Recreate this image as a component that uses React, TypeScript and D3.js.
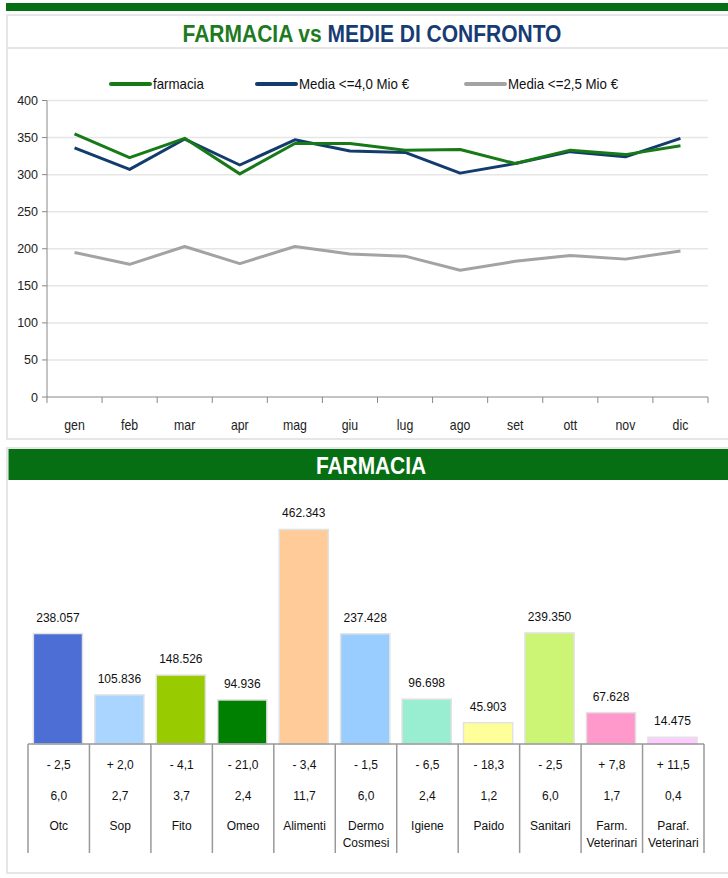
import React from "react";
import * as d3 from "d3";

const months = ["gen", "feb", "mar", "apr", "mag", "giu", "lug", "ago", "set", "ott", "nov", "dic"];
const farmacia = [355, 323, 349, 301, 342, 342, 333, 334, 315, 333, 327, 339];
const media40 = [336, 307, 348, 313, 347, 332, 330, 302, 315, 331, 324, 349];
const media25 = [195, 179, 203, 180, 203, 193, 190, 171, 183, 191, 186, 197];
const yTicks = [0, 50, 100, 150, 200, 250, 300, 350, 400];

const categories = ["Otc", "Sop", "Fito", "Omeo", "Alimenti", "Dermo\nCosmesi", "Igiene", "Paido", "Sanitari", "Farm.\nVeterinari", "Paraf.\nVeterinari"];
const values = [238057, 105836, 148526, 94936, 462343, 237428, 96698, 45903, 239350, 67628, 14475];
const variations = ["- 2,5", "+ 2,0", "- 4,1", "- 21,0", "- 3,4", "- 1,5", "- 6,5", "- 18,3", "- 2,5", "+ 7,8", "+ 11,5"];
const shares = ["6,0", "2,7", "3,7", "2,4", "11,7", "6,0", "2,4", "1,2", "6,0", "1,7", "0,4"];
const barColors = ["#4d6fd5", "#aad5ff", "#99cc00", "#008000", "#ffcc99", "#99ccff", "#99eed2", "#ffff99", "#ccf576", "#ff99cc", "#ffccff"];

const seriesNames = ["farmacia", "Media <=4,0 Mio €", "Media <=2,5 Mio €"];
const seriesColors = ["#177a17", "#133c6e", "#a3a3a3"];

const FONT = "Arial, 'Liberation Sans', sans-serif";

export default function App() {
  const W = 728, H = 878;
  // top chart scales
  const x = d3.scaleBand<string>().domain(months).range([47, 708]).padding(0);
  const y = d3.scaleLinear().domain([0, 400]).range([397, 100.5]);
  const line = d3
    .line<number>()
    .x((_, i) => (x(months[i]) as number) + x.bandwidth() / 2)
    .y((d) => y(d));
  const allSeries = [media25, media40, farmacia];
  const allColors = [seriesColors[2], seriesColors[1], seriesColors[0]];
  const boundaries = months.map((m) => x(m) as number).concat([708]);

  // bottom chart scales
  const bx = d3.scaleBand<string>().domain(categories).range([28, 704]).padding(0);
  const by = d3.scaleLinear().domain([0, 500000]).range([744, 512]);
  const bw = bx.bandwidth() * 0.8;
  const colEdges = categories.map((c) => bx(c) as number).concat([704]);
  const fmt = (v: number) => d3.format(",")(v).replace(/,/g, ".");

  const legendX = [111, 257, 466];

  return (
    <svg width={W} height={H} style={{ position: "absolute", left: 0, top: 0, background: "#fff" }} fontFamily={FONT}>
      <rect x={0} y={0} width={W} height={H} fill="#fff" />
      {/* top green band */}
      <rect x={6} y={3} width={722} height={8} fill="#066e13" />
      {/* top panel */}
      <rect x={7} y={15} width={730} height={424} fill="none" stroke="#e6e6e6" strokeWidth={2} />
      <line x1={7} x2={728} y1={48} y2={48} stroke="#e6e6e6" strokeWidth={2} />
      <text x={372} y={42} textAnchor="middle" fontSize={24} fontWeight="bold" transform="translate(372,0) scale(0.875,1) translate(-372,0)">
        <tspan fill="#1e7a1e">FARMACIA vs </tspan>
        <tspan fill="#173b73">MEDIE DI CONFRONTO</tspan>
      </text>
      {/* legend */}
      {seriesNames.map((n, i) => (
        <g key={n}>
          <line x1={legendX[i]} x2={legendX[i] + 39} y1={84} y2={84} stroke={seriesColors[i]} strokeWidth={4} strokeLinecap="round" />
          <text x={legendX[i] + 42} y={89} fontSize={14} fill="#111" transform={`translate(${legendX[i] + 42},0) scale(0.95,1) translate(${-(legendX[i] + 42)},0)`}>
            {n}
          </text>
        </g>
      ))}
      {/* grid */}
      {yTicks.map((t) => (
        <g key={t}>
          {t > 0 && <line x1={47} x2={708} y1={y(t)} y2={y(t)} stroke="#e6e6e6" strokeWidth={1.5} />}
          <line x1={42} x2={47} y1={y(t)} y2={y(t)} stroke="#888" strokeWidth={1} />
          <text x={38} y={y(t) + 4.5} textAnchor="end" fontSize={12.5} fill="#222">
            {t}
          </text>
        </g>
      ))}
      {/* axes */}
      <line x1={47} x2={47} y1={y(400)} y2={397} stroke="#888" strokeWidth={1} />
      <line x1={47} x2={708} y1={397} y2={397} stroke="#888" strokeWidth={1} />
      {boundaries.map((b, i) => (
        <line key={i} x1={b} x2={b} y1={397} y2={403} stroke="#888" strokeWidth={1} />
      ))}
      {months.map((m) => {
        const cx = (x(m) as number) + x.bandwidth() / 2;
        return (
          <text key={m} x={cx} y={430} textAnchor="middle" fontSize={14} fill="#222" transform={`translate(${cx},0) scale(0.88,1) translate(${-cx},0)`}>
            {m}
          </text>
        );
      })}
      {/* series */}
      {allSeries.map((s, i) => (
        <path key={i} d={line(s) as string} fill="none" stroke={allColors[i]} strokeWidth={3} strokeLinejoin="round" />
      ))}

      {/* bottom panel */}
      <rect x={7} y={448} width={730} height={425} fill="none" stroke="#e6e6e6" strokeWidth={2} />
      <rect x={8.5} y={449} width={720} height={31} fill="#066e13" />
      <text x={371} y={474} textAnchor="middle" fontSize={24} fontWeight="bold" fill="#fff" transform="translate(371,0) scale(0.87,1) translate(-371,0)">
        FARMACIA
      </text>
      {/* bars */}
      {categories.map((c, i) => {
        const cx = (bx(c) as number) + bx.bandwidth() / 2 - 0.8;
        const top = by(values[i]);
        return (
          <g key={c}>
            <rect x={cx - bw / 2} y={top} width={bw} height={744 - top} fill={barColors[i]} stroke="#e2e2e2" strokeWidth={1.5} />
            <text x={cx} y={top - 12} textAnchor="middle" fontSize={12} fill="#111">
              {fmt(values[i])}
            </text>
          </g>
        );
      })}
      {/* table */}
      <line x1={28} x2={704} y1={744} y2={744} stroke="#999" strokeWidth={1.5} />
      {colEdges.map((e, i) => (
        <line key={i} x1={e} x2={e} y1={744} y2={853} stroke="#999" strokeWidth={1.5} />
      ))}
      {categories.map((c, i) => {
        const cx = (bx(c) as number) + bx.bandwidth() / 2;
        const lines = c.split("\n");
        return (
          <g key={c} fontSize={12} fill="#111" textAnchor="middle">
            <text x={cx} y={769}>{variations[i]}</text>
            <text x={cx} y={800}>{shares[i]}</text>
            {lines.map((l, j) => (
              <text key={j} x={cx} y={830 + j * 17}>{l}</text>
            ))}
          </g>
        );
      })}
    </svg>
  );
}
